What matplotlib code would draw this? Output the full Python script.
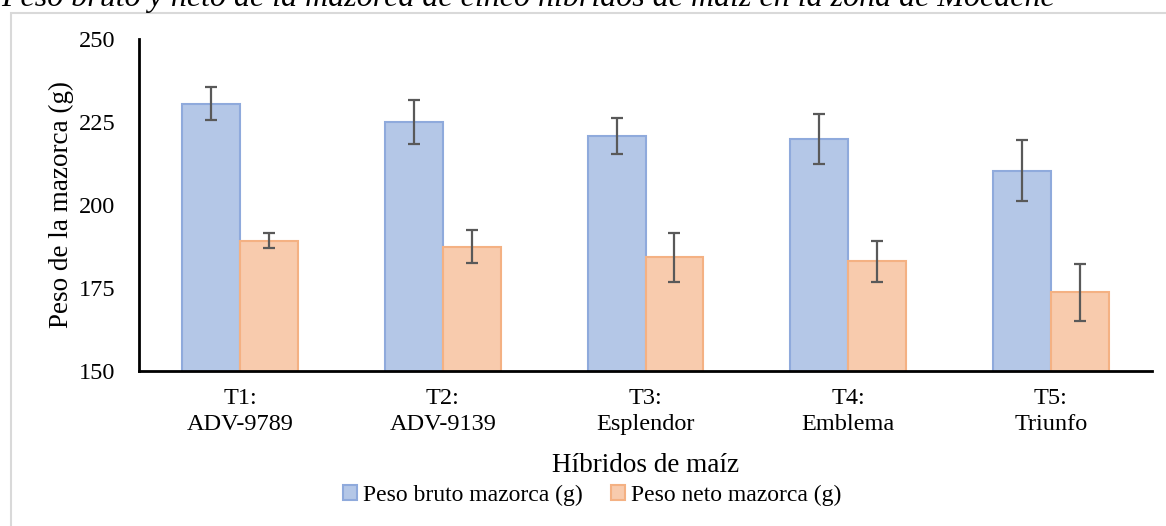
import matplotlib.pyplot as plt
import numpy as np
from matplotlib.patches import Rectangle

# data
categories = ["T1:\nADV-9789", "T2:\nADV-9139", "T3:\nEsplendor", "T4:\nEmblema", "T5:\nTriunfo"]
bruto = [230.5, 225.0, 220.8, 219.8, 210.3]
bruto_err = [4.9, 6.6, 5.5, 7.6, 9.2]
neto = [189.3, 187.5, 184.3, 183.0, 173.7]
neto_err = [2.2, 5.0, 7.4, 6.3, 8.5]

plt.rcParams['font.family'] = ['Liberation Serif', 'DejaVu Serif']

W, H = 1166, 526
fig = plt.figure(figsize=(W/100, H/100), dpi=100)
ax = fig.add_axes([139/W, 1 - 371/H, (1152-139)/W, (371-39)/H])

x = np.arange(len(categories))
w = 0.286
ekw = {'elinewidth': 1.6, 'capthick': 1.6}
b1 = ax.bar(x - w/2, bruto, w, color='#b4c7e7', edgecolor='#8faadc', linewidth=1.5,
            yerr=bruto_err, ecolor='#595959', capsize=4.5, error_kw=ekw,
            label='Peso bruto mazorca (g)')
b2 = ax.bar(x + w/2, neto, w, color='#f8cbad', edgecolor='#f4b183', linewidth=1.5,
            yerr=neto_err, ecolor='#595959', capsize=4.5, error_kw=ekw,
            label='Peso neto mazorca (g)')

ax.set_xlim(-0.5, 4.5)
ax.set_ylim(150, 250)
ax.set_yticks([150, 175, 200, 225, 250])
ax.set_xticks(x)
ax.set_xticklabels(categories, linespacing=1.35)
ax.tick_params(axis='both', length=0, labelsize=17.5)
ax.tick_params(axis='y', pad=17)
ax.tick_params(axis='x', pad=12)
for s in ['top', 'right']:
    ax.spines[s].set_visible(False)
ax.spines['left'].set_linewidth(2)
ax.spines['bottom'].set_linewidth(2)

ax.set_ylabel("Peso de la mazorca (g)", fontsize=19.5, va='center')
ax.yaxis.set_label_coords((61 - 139) / 1013, 0.5)
ax.set_xlabel("Híbridos de maíz", fontsize=19.5, va='center')
ax.xaxis.set_label_coords(0.5, (371 - 466) / 332)

fig.legend(handles=[b1, b2], loc='center', bbox_to_anchor=(592/W, 1 - 495/H), ncol=2, frameon=False,
           fontsize=17, handlelength=0.6, handleheight=0.6, handletextpad=0.25, columnspacing=1.2)

# chart border (Excel chart area)
fig.patches.append(Rectangle((11/W, -0.01), 1.0, 1 - 13/H + 0.01,
                             transform=fig.transFigure, fill=False, edgecolor='#d9d9d9', linewidth=1.5))

# title, cut off at the top of the image as in the source
fig.text(528/W, 1 - 6/H, "Peso bruto y neto de la mazorca de cinco híbridos de maíz en la zona de Mocache",
         ha='center', va='baseline', fontsize=23, style='italic')

fig.savefig("out.png", dpi=100)
